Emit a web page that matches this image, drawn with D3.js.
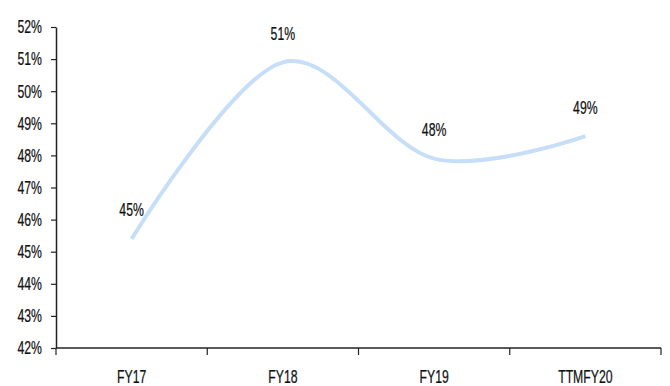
<!DOCTYPE html>
<html>
<head>
<meta charset="utf-8">
<script src="https://cdn.jsdelivr.net/npm/d3@7"></script>
<style>
  html, body { margin: 0; padding: 0; background: #fff; }
  svg text { font-family: "Liberation Sans Narrow", "Arial Narrow", "Liberation Sans", Arial, sans-serif; fill: #111; }
</style>
</head>
<body>
<svg id="chart" width="670" height="386"></svg>
<script>
// Gross margin by fiscal period
const categories = ["FY17", "FY18", "FY19", "TTMFY20"];
const marginValues = [45.4, 50.9, 47.9, 48.6];
const valueLabels = ["45%", "51%", "48%", "49%"];
const yTicks = [42, 43, 44, 45, 46, 47, 48, 49, 50, 51, 52];

const svg = d3.select("#chart");
const margin = { left: 56, right: 9, top: 27, bottom: 38 };
const W = 670, H = 386;
const FONT = 17.5;   // label size
const NARROW = 0.7;  // horizontal squeeze for a condensed look

const x = d3.scaleBand()
  .domain(categories)
  .range([margin.left, W - margin.right])
  .paddingInner(0).paddingOuter(0);

const y = d3.scaleLinear()
  .domain([42, 52])
  .range([H - margin.bottom, margin.top]);

// condensed text placed at (px, py)
function narrowText(parent, px, py, str, anchor) {
  parent.append("g")
    .attr("transform", `translate(${px},${py}) scale(${NARROW},1)`)
    .append("text")
    .attr("text-anchor", anchor)
    .attr("dominant-baseline", "central")
    .attr("font-size", FONT)
    .attr("stroke", "#111")
    .attr("stroke-width", 0.25)
    .text(str);
}

// y axis
const yAxis = svg.append("g")
  .attr("transform", `translate(${margin.left},0)`)
  .call(d3.axisLeft(y).tickValues(yTicks).tickFormat("").tickSize(5).tickSizeOuter(0));
yAxis.select(".domain").attr("stroke", "#222").attr("stroke-width", 1.5);
yAxis.selectAll(".tick line").attr("stroke", "#222").attr("stroke-width", 1.2);
yTicks.forEach(t => narrowText(svg, margin.left - 14, y(t), t + "%", "end"));

// x axis with boundary ticks between categories
const xAxisG = svg.append("g")
  .attr("transform", `translate(0,${H - margin.bottom})`);
xAxisG.append("line")
  .attr("x1", margin.left).attr("x2", W - margin.right)
  .attr("stroke", "#222").attr("stroke-width", 1.5);
const boundaries = categories.map(c => x(c)).concat([x(categories[categories.length - 1]) + x.bandwidth()]);
xAxisG.selectAll("line.bound")
  .data(boundaries)
  .join("line")
  .attr("class", "bound")
  .attr("x1", d => d).attr("x2", d => d)
  .attr("y1", 0).attr("y2", 7)
  .attr("stroke", "#222").attr("stroke-width", 1.2);
categories.forEach(c => narrowText(xAxisG, x(c) + x.bandwidth() / 2, 29, c, "middle"));

// smoothed line
const line = d3.line()
  .x((d, i) => x(categories[i]) + x.bandwidth() / 2)
  .y(d => y(d))
  .curve(d3.curveCatmullRom.alpha(0));

svg.append("path")
  .datum(marginValues)
  .attr("fill", "none")
  .attr("stroke", "#c6def7")
  .attr("stroke-width", 4)
  .attr("stroke-linecap", "butt")
  .attr("d", line);

// value labels
marginValues.forEach((v, i) =>
  narrowText(svg, x(categories[i]) + x.bandwidth() / 2, y(v) - 29, valueLabels[i], "middle"));
</script>
</body>
</html>
